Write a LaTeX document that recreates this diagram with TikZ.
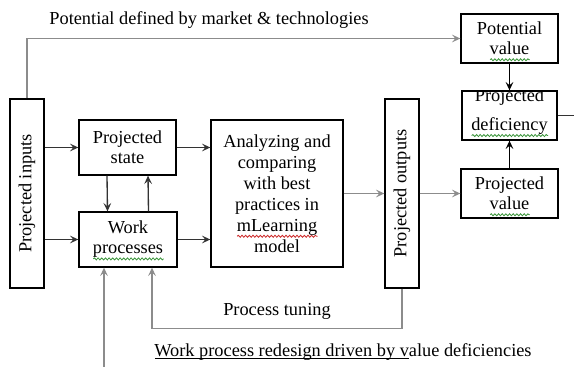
\documentclass[tikz,border=0pt]{standalone}
\usepackage{fontspec}
\setmainfont{Liberation Serif}
\usepackage{graphicx}
\usepackage{tikz}
\usetikzlibrary{arrows.meta, positioning, decorations.pathmorphing}

\definecolor{GrammarGreen}{RGB}{60, 150, 60}
\definecolor{SpellRed}{RGB}{205, 45, 45}

% wavy mark and plain rule under a piece of text
\newsavebox\wordbox
\newlength\wordwd
\newcommand\squig[2]{\sbox\wordbox{#2}\setlength\wordwd{\wd\wordbox}%
  \rlap{\smash{\tikz[baseline=0pt]\draw[#1, line width=0.5pt, decorate, decoration={snake, amplitude=0.6pt, segment length=2.2pt}] (0pt,-3pt) -- (\wordwd,-3pt);}}\usebox\wordbox}
\newcommand\underrule[1]{\sbox\wordbox{#1}\setlength\wordwd{\wd\wordbox}%
  \rlap{\smash{\tikz[baseline=0pt]\draw[line width=0.6pt] (0pt,-1.2pt) -- (\wordwd,-1.2pt);}}\usebox\wordbox}

\begin{document}
\begin{tikzpicture}[x=0.6pt, y=-0.6pt,
        box/.style={rectangle, draw=black, line width=0.8pt, align=center, inner sep=0pt, font=\fontsize{11}{12}\selectfont},
        tallbox/.style={box, minimum width=20.4pt, minimum height=113.4pt},
        note/.style={font=\fontsize{11}{12}\selectfont},
        arrow/.style={-{Stealth[length=5pt, width=4.6pt, inset=2pt]}, line width=0.8pt, draw=black!80},
        feed/.style={arrow, draw=black!45}
    ]
        \useasboundingbox (0,0) rectangle (574,367);
        \node[tallbox] (inputs) at (27,193.5) {\rotatebox{90}{Projected inputs}};
        \node[box, minimum width=58.2pt, minimum height=33pt] (state) at (127.5,147.5) {Projected\\state};
        \node[box, minimum width=58.8pt, minimum height=33pt] (work) at (128,239.5) {Work\\\squig{GrammarGreen}{processes}};
        \node[box, minimum width=79.2pt, minimum height=88.2pt, font=\fontsize{11}{12.6}\selectfont] (analyze) at (277,193.5) {Analyzing and\\comparing\\with best\\practices in\\\squig{SpellRed}{mLearning}\\model};
        \node[tallbox] (outputs) at (402,193.5) {\rotatebox{90}{Projected outputs}};
        \node[box, minimum width=58.2pt, minimum height=29.4pt] (potval) at (509.5,38.5) {Potential\\\squig{GrammarGreen}{value}};
        \node[box, minimum width=57pt, minimum height=29.4pt] (deficit) at (509.5,115.5) {};
        \node[box, minimum width=58.2pt, minimum height=29.4pt] (projval) at (509.5,193.5) {Projected\\\squig{GrammarGreen}{value}};
        % text of the deficiency box runs over its top edge
        \begin{scope}
            \clip (deficit.south west) rectangle (deficit.north east);
            \node[note, font=\fontsize{11}{17.4}\selectfont, align=center] at ([yshift=2.3pt]deficit.center) {Projected\\\squig{GrammarGreen}{deficiency}};
        \end{scope}
        \coordinate (rim) at (574,115.5);
        \coordinate (floor) at (104,367);

        \draw[feed] (inputs.north) |- node[note, pos=0.71, above=2pt] {Potential defined by market \& technologies} (potval.west);
        \draw[arrow] (inputs.east |- state) -- (state);
        \draw[arrow] (inputs.east |- work) -- (work);
        \draw[arrow] (state) -- (analyze.west |- state);
        \draw[arrow] (work) -- (analyze.west |- work);
        \draw[arrow] ([xshift=-12.3pt]state.south) -- ([xshift=-12.3pt]work.north);
        \draw[arrow] ([xshift=12.3pt]work.north) -- ([xshift=12.3pt]state.south);
        \draw[feed] (analyze) -- (outputs);
        \draw[feed] (outputs) -- (projval);
        \draw[arrow, draw=black] (potval) -- (deficit);
        \draw[arrow, draw=black] (projval) -- (deficit);
        \draw[line width=0.8pt, black!80] (deficit) -- (rim);
        \draw[feed] (outputs.south) -- ++(0,40) -| node[note, pos=0.25, above=1.8pt] {Process tuning} ([xshift=14.4pt]work.south);
        \draw[feed] (floor) -- (floor |- work.south);
        \node[note, anchor=base west, inner sep=0pt] (redesign) at (154,356) {\underrule{Work process redesign driven by v}alue deficiencies};
    \end{tikzpicture}
\end{document}
